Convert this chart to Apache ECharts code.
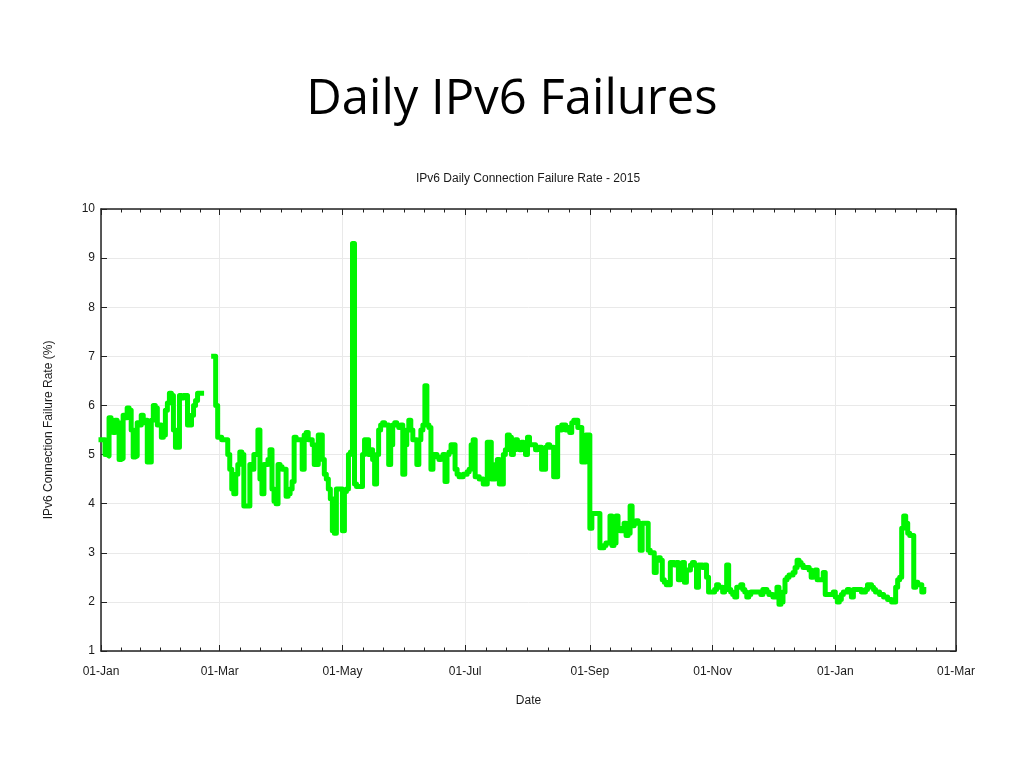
<!DOCTYPE html>
<html>
<head>
<meta charset="utf-8">
<script src="https://cdn.jsdelivr.net/npm/echarts@6/dist/echarts.min.js"></script>
<style>
html,body{margin:0;padding:0;background:#fff;}
#c{width:1024px;height:768px;}
</style>
</head>
<body>
<div id="c"></div>
<script>
// ---- texts ----
const slideTitle = 'Daily IPv6 Failures';
const chartTitle = 'IPv6 Daily Connection Failure Rate - 2015';
const xAxisName = 'Date';
const yAxisName = 'IPv6 Connection Failure Rate (%)';
const monthNames = ['Jan','Feb','Mar','Apr','May','Jun','Jul','Aug','Sep','Oct','Nov','Dec'];

// ---- axis ranges ----
const xStart = [2015, 0, 1];   // 01-Jan-2015
const xEnd = [2016, 2, 1];     // 01-Mar-2016
const yMin = 1, yMax = 10, yStep = 1;

// ---- data: one value per day starting 01-Jan-2015 (null = no data) ----
const firstDay = [2015, 0, 1];
const failureRate = [
  // Jan 2015
  5.3,5.3,5.0,4.97,5.75,5.7,5.45,5.7,5.65,4.9,4.92,5.8,5.75,5.95,5.9,5.5,4.95,4.97,5.65,5.6,
  5.8,5.65,5.7,4.85,4.85,5.7,6.0,5.95,5.6,5.6,5.35,
  // Feb 2015
  5.4,5.9,6.05,6.25,6.2,5.5,5.15,5.15,6.2,6.15,6.2,6.2,5.6,5.6,5.8,6.0,6.1,6.25,6.25,
  null,null,null,null,null,null,7.0,6.0,5.35,
  // Mar 2015
  5.35,5.3,5.3,5.3,5.0,4.7,4.3,4.2,4.6,4.8,5.05,5.0,3.95,3.95,3.95,4.8,4.7,5.0,5.0,5.5,
  4.5,4.2,4.8,4.8,4.9,5.1,4.3,4.05,4.0,4.8,4.75,
  // Apr 2015
  4.7,4.7,4.15,4.2,4.3,4.45,5.35,5.3,5.3,5.3,4.7,5.4,5.45,5.3,5.3,5.2,4.8,4.8,5.4,5.4,
  4.9,4.6,4.5,4.3,4.1,3.45,3.4,4.3,4.3,4.3,
  // May 2015
  3.45,4.25,4.3,5.0,5.05,9.3,4.4,4.35,4.35,4.35,5.0,5.3,5.3,5.0,5.1,4.9,4.4,5.0,5.5,5.6,
  5.65,5.6,5.6,4.8,5.2,5.6,5.65,5.6,5.55,5.6,4.6,
  // Jun 2015
  5.2,5.5,5.7,5.5,5.3,5.3,4.8,5.3,5.5,5.6,6.4,5.6,5.55,4.7,5.0,5.0,4.95,4.9,4.95,5.0,
  4.45,5.0,5.05,5.2,5.2,4.7,4.6,4.55,4.55,4.6,
  // Jul 2015
  4.6,4.65,4.7,5.2,5.3,4.55,4.55,4.5,4.5,4.4,4.4,5.25,5.25,4.5,4.5,4.8,4.9,4.4,4.4,5.0,
  5.1,5.4,5.35,5.0,5.1,5.3,5.2,5.1,5.25,5.2,5.0,
  // Aug 2015
  5.35,5.2,5.2,5.2,5.1,5.15,5.15,4.7,4.7,5.15,5.2,5.15,5.15,4.55,4.55,5.55,5.5,5.6,5.6,5.5,
  5.55,5.45,5.65,5.7,5.7,5.55,5.55,4.85,4.85,5.4,5.4,
  // Sep 2015
  3.5,3.8,3.8,3.8,3.8,3.1,3.1,3.15,3.2,3.2,3.75,3.15,3.2,3.75,3.5,3.45,3.45,3.6,3.35,3.4,
  3.95,3.55,3.6,3.65,3.6,3.05,3.6,3.6,3.6,3.05,
  // Oct 2015
  3.0,3.0,2.6,2.85,2.9,2.85,2.45,2.4,2.35,2.35,2.8,2.8,2.75,2.8,2.45,2.75,2.8,2.4,2.65,2.65,
  2.75,2.8,2.75,2.3,2.75,2.75,2.7,2.75,2.5,2.2,2.2,
  // Nov 2015
  2.2,2.25,2.35,2.3,2.3,2.2,2.25,2.75,2.25,2.2,2.15,2.1,2.3,2.3,2.35,2.25,2.2,2.1,2.15,2.2,
  2.2,2.2,2.2,2.2,2.15,2.25,2.25,2.2,2.15,2.15,
  // Dec 2015
  2.1,2.1,2.3,1.95,2.0,2.2,2.45,2.5,2.55,2.55,2.6,2.7,2.85,2.8,2.75,2.7,2.7,2.7,2.65,2.5,
  2.6,2.65,2.45,2.45,2.45,2.6,2.15,2.15,2.15,2.15,2.2,
  // Jan 2016
  2.1,2.0,2.05,2.15,2.2,2.2,2.25,2.2,2.1,2.25,2.25,2.25,2.25,2.2,2.2,2.25,2.35,2.35,2.3,2.25,
  2.2,2.2,2.15,2.15,2.1,2.1,2.05,2.05,2.0,2.0,2.3,
  // Feb 2016
  2.45,2.5,3.5,3.75,3.6,3.4,3.35,3.35,2.3,2.4,2.35,2.35,2.2,2.25
];

// ---- build chart ----
const DAY = 86400000;
const t0 = Date.UTC(firstDay[0], firstDay[1], firstDay[2]);
const seriesData = failureRate.map((v, i) => [t0 + i * DAY, v]);
const xMinT = Date.UTC(xStart[0], xStart[1], xStart[2]);
const xMaxT = Date.UTC(xEnd[0], xEnd[1], xEnd[2]);

const font = 'Liberation Sans';
const axisColor = '#222';
const textColor = '#1a1a1a';
const lineColor = '#00f500';

function dateLabel(v) {
  const d = new Date(v);
  const dd = d.getUTCDate();
  return (dd < 10 ? '0' + dd : '' + dd) + '-' + monthNames[d.getUTCMonth()];
}

const xCommon = {
  type: 'time',
  min: xMinT,
  max: xMaxT,
  minInterval: 62 * DAY,
  maxInterval: 62 * DAY,
  axisLine: { onZero: false, lineStyle: { color: axisColor, width: 1.5 } },
  axisTick: { show: true, inside: true, length: 6, lineStyle: { color: axisColor, width: 1 } },
  minorTick: { show: true, splitNumber: 6, length: 3.5, lineStyle: { color: axisColor, width: 1 } }
};
const yCommon = {
  type: 'value',
  min: yMin,
  max: yMax,
  interval: yStep,
  axisLine: { show: true, onZero: false, lineStyle: { color: axisColor, width: 1.5 } },
  axisTick: { show: true, inside: true, length: 6, lineStyle: { color: axisColor, width: 1 } }
};

const option = {
  useUTC: true,
  animation: false,
  backgroundColor: '#fff',
  title: [
    {
      text: slideTitle, left: 'center', top: 71,
      textStyle: { fontFamily: 'Open Sans', fontSize: 49, fontWeight: 'normal', color: '#000' }
    },
    {
      text: chartTitle, left: 523, top: 168, textAlign: 'center',
      textStyle: { fontFamily: font, fontSize: 12, fontWeight: 'normal', color: textColor }
    }
  ],
  grid: { left: 101, top: 209, width: 855, height: 442, containLabel: false },
  xAxis: [
    Object.assign({}, xCommon, {
      position: 'bottom',
      name: xAxisName, nameLocation: 'middle', nameGap: 44,
      nameTextStyle: { fontFamily: font, fontSize: 12, color: textColor },
      axisLabel: { show: true, margin: 15, formatter: dateLabel, fontFamily: font, fontSize: 12, color: textColor },
      splitLine: { show: true, lineStyle: { color: '#e9e9e9', width: 1 } }
    }),
    Object.assign({}, xCommon, {
      position: 'top',
      axisLabel: { show: false },
      splitLine: { show: false }
    })
  ],
  yAxis: [
    Object.assign({}, yCommon, {
      position: 'left',
      name: yAxisName, nameLocation: 'middle', nameGap: 46,
      nameTextStyle: { fontFamily: font, fontSize: 12, color: textColor },
      axisLabel: { show: true, margin: 6, fontFamily: font, fontSize: 12, color: textColor },
      splitLine: { show: true, lineStyle: { color: '#e9e9e9', width: 1 } }
    }),
    Object.assign({}, yCommon, {
      position: 'right',
      axisLabel: { show: false },
      splitLine: { show: false }
    })
  ],
  series: [
    {
      type: 'line',
      xAxisIndex: 0,
      yAxisIndex: 0,
      data: seriesData,
      step: 'end',
      showSymbol: false,
      symbol: 'none',
      connectNulls: false,
      lineStyle: { color: lineColor, width: 5, cap: 'square', join: 'round' },
      itemStyle: { color: lineColor },
      emphasis: { disabled: true }
    }
  ]
};

const chart = echarts.init(document.getElementById('c'), null, { renderer: 'canvas' });
chart.setOption(option);
</script>
</body>
</html>
